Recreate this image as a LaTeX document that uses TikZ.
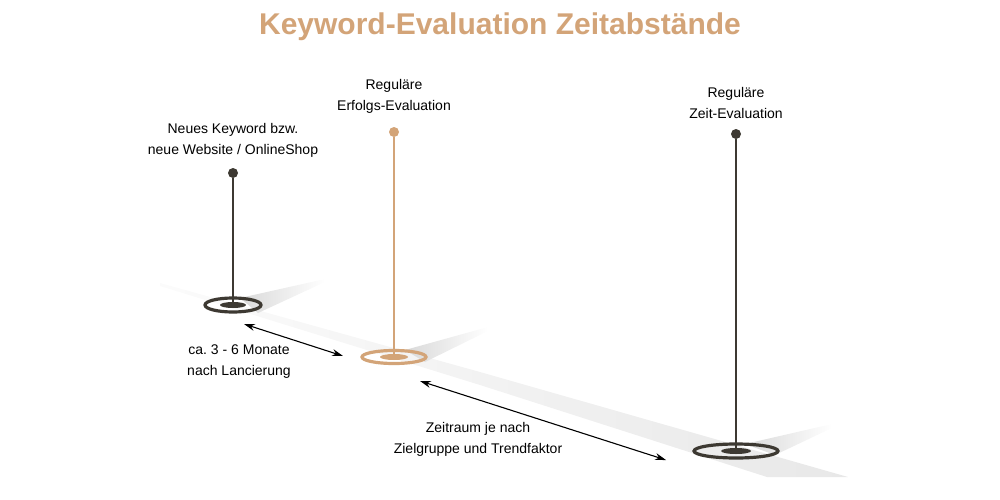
\documentclass[tikz,border=0pt]{standalone}
\usepackage{fontspec}
\setmainfont{Liberation Sans}
\usetikzlibrary{arrows.meta}
\definecolor{hellbraun}{HTML}{D3A478}
\definecolor{dunkel}{HTML}{3D3932}
\frenchspacing

\begin{document}
\begin{tikzpicture}[> = {Stealth[length=11pt, width=7pt]}, x = 1pt, y = -1pt]
            \tikzstyle{punkt}=[circle, inner sep=0pt, minimum size=10pt]
            \tikzstyle{stab}=[line width=2.5pt]
            \tikzstyle{ring}=[line width=3.2pt]
            \tikzstyle{schrift}=[align=center, font=\fontsize{14}{21}\selectfont]
            \tikzstyle{pfeil}=[<->, line width=1.1pt]

                \useasboundingbox (0,0) rectangle (1000,500);

                % Titel
                \node[font=\fontsize{30}{36}\selectfont\bfseries, text=hellbraun, anchor=base] (titel) at (500,35) {Keyword-Evaluation Zeitabstände};

                % Bänder
                \shade[left color=gray!3, right color=gray!18] (160,283) -- (480,372) -- (848,477) -- (767,477) -- (480,385) -- (160,286) -- cycle;
                \shade[left color=gray!30, right color=white] (240,298) -- (325,279) -- (325,282) -- (258,313) -- cycle;
                \shade[left color=gray!30, right color=white] (405,350) -- (488,327) -- (488,331) -- (425,362) -- cycle;
                \shade[left color=gray!30, right color=white] (745,444) -- (832,424) -- (832,428) -- (775,455) -- cycle;

                % Stifte
                \coordinate (f1) at (233,305);
                \coordinate (f2) at (394,357);
                \coordinate (f3) at (736,451);
                \node[punkt, fill=dunkel] (k1) at (233,173) {};
                \node[punkt, fill=hellbraun] (k2) at (394,132) {};
                \node[punkt, fill=dunkel] (k3) at (736,134) {};

                \draw[ring, dunkel] (f1) ellipse (28 and 7);
                \fill[dunkel] (f1) ellipse (13 and 3);
                \draw[ring, hellbraun] (f2) ellipse (32 and 6.5);
                \fill[hellbraun] (f2) ellipse (14 and 3);
                \draw[ring, dunkel] (f3) ellipse (42 and 7);
                \fill[dunkel] (f3) ellipse (15 and 3);

                \draw[stab, dunkel] (k1) -- (f1);
                \draw[stab, hellbraun] (k2) -- (f2);
                \draw[stab, dunkel] (k3) -- (f3);

                % Beschriftungen
                \node[schrift] (b1) at (233,140) {Neues Keyword bzw.\\neue Website / OnlineShop};
                \node[schrift] (b2) at (394,96) {Reguläre\\Erfolgs-Evaluation};
                \node[schrift] (b3) at (736,103) {Reguläre\\Zeit-Evaluation};
                \node[schrift] (b4) at (239,362) {ca. 3 - 6 Monate\\nach Lancierung};
                \node[schrift] (b5) at (478,439) {Zeitraum je nach\\Zielgruppe und Trendfaktor};

                % Pfeile
                \coordinate (a1) at (244,324);
                \coordinate (a2) at (343,356);
                \coordinate (a3) at (420,381);
                \coordinate (a4) at (666,460);
                \draw[pfeil] (a1) -- (a2);
                \draw[pfeil] (a3) -- (a4);
        \end{tikzpicture}
\end{document}
